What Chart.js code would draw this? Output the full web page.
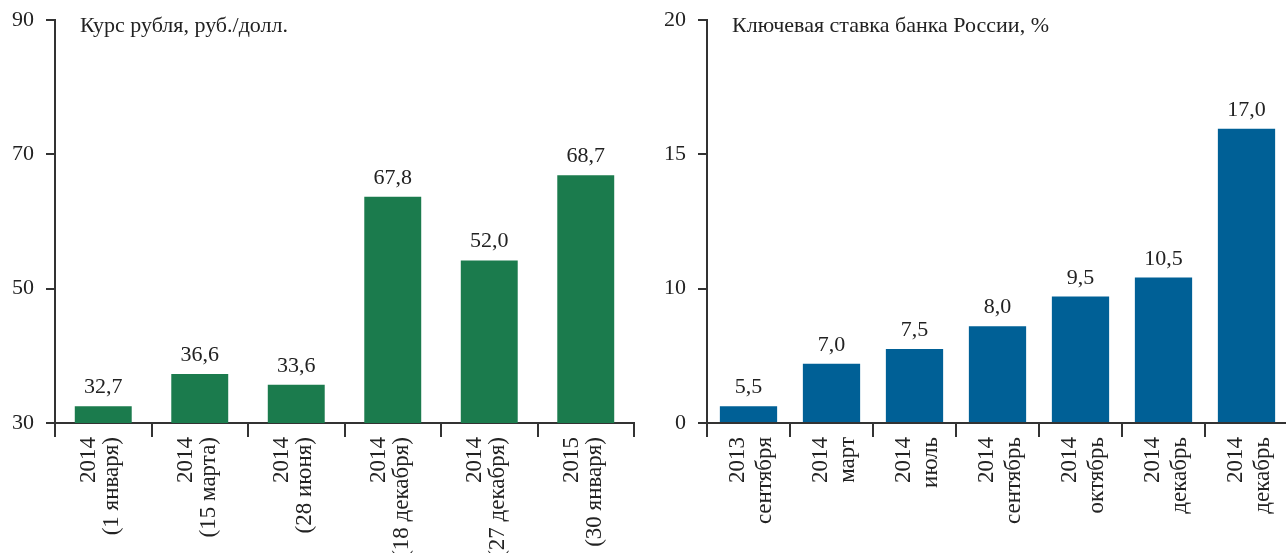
<!DOCTYPE html>
<html>
<head>
<meta charset="utf-8">
<script src="https://cdn.jsdelivr.net/npm/chart.js@4.4.1/dist/chart.umd.min.js"></script>
<style>
  html, body { margin: 0; padding: 0; background: #fff; overflow: hidden; }
  #wrap { position: relative; width: 1286px; height: 553px; }
  canvas { position: absolute; top: 0; }
  #rub { left: 0; }
  #rate { left: 645px; }
</style>
</head>
<body>
<div id="wrap">
  <canvas id="rub" width="645" height="553"></canvas>
  <canvas id="rate" width="643" height="553"></canvas>
</div>
<script>
// Two bar panels: rouble exchange rate and Bank of Russia key rate
const rubTitle = 'Курс рубля, руб./долл.';
const rubCategories = [
  ['2014', '(1 января)'],
  ['2014', '(15 марта)'],
  ['2014', '(28 июня)'],
  ['2014', '(18 декабря)'],
  ['2014', '(27 декабря)'],
  ['2015', '(30 января)']
];
// bar heights as drawn in the source, and the numbers printed above them
const rubBarValues = [32.5, 37.3, 35.7, 63.7, 54.2, 66.9];
const rubValueLabels = ['32,7', '36,6', '33,6', '67,8', '52,0', '68,7'];

const rateTitle = 'Ключевая ставка банка России, %';
const rateCategories = [
  ['2013', 'сентября'],
  ['2014', 'март'],
  ['2014', 'июль'],
  ['2014', 'сентябрь'],
  ['2014', 'октябрь'],
  ['2014', 'декабрь'],
  ['2014', 'декабрь']
];
// the source axis is evenly spaced but labelled 0, 10, 15, 20,
// so heights are read in axis steps
const rateTickLabels = ['0', '10', '15', '20'];
const rateBarValues = [0.125, 0.441, 0.551, 0.72, 0.941, 1.083, 2.19];
const rateValueLabels = ['5,5', '7,0', '7,5', '8,0', '9,5', '10,5', '17,0'];

const FONT = "'Liberation Serif', 'DejaVu Serif', serif";
const INK = '#222222';
const AXIS = '#333333';

// draws the inner title and the value labels above bars
const annotate = {
  id: 'annotate',
  afterDatasetsDraw(chart, args, opts) {
    const ctx = chart.ctx;
    const area = chart.chartArea;
    ctx.save();
    ctx.fillStyle = INK;
    ctx.font = '22px ' + FONT;
    ctx.textAlign = 'left';
    ctx.textBaseline = 'alphabetic';
    ctx.fillText(opts.title, area.left + 25, 32);

    ctx.font = '22px ' + FONT;
    ctx.textAlign = 'center';
    chart.getDatasetMeta(0).data.forEach(function (bar, i) {
      ctx.fillText(opts.labels[i], bar.x, bar.y - 13);
    });
    ctx.restore();
  }
};

function makeChart(id, cfg) {
  return new Chart(document.getElementById(id), {
    type: 'bar',
    data: {
      labels: cfg.categories,
      datasets: [{
        data: cfg.values,
        backgroundColor: cfg.color,
        borderWidth: 0,
        categoryPercentage: 1,
        barPercentage: cfg.barPct
      }]
    },
    options: {
      responsive: false,
      animation: false,
      layout: { padding: { top: 20, right: cfg.padRight, bottom: 0, left: 0 } },
      plugins: {
        legend: { display: false },
        tooltip: { enabled: false },
        annotate: { title: cfg.title, labels: cfg.valueLabels }
      },
      scales: {
        x: {
          grid: {
            offset: true,
            drawOnChartArea: false,
            drawTicks: true,
            tickLength: 14,
            color: AXIS,
            lineWidth: 2
          },
          border: { display: true, color: AXIS, width: 2 },
          ticks: {
            minRotation: 90,
            maxRotation: 90,
            autoSkip: false,
            padding: 0,
            labelOffset: cfg.labelOffset,
            color: INK,
            font: { family: FONT, size: 23, lineHeight: cfg.lineHeight }
          },
          afterFit: function (scale) {
            scale.height = 553 - 423;
            scale.paddingLeft = 0;
            scale.paddingRight = 0;
          }
        },
        y: {
          min: cfg.min,
          max: cfg.max,
          grid: {
            drawOnChartArea: false,
            drawTicks: true,
            tickLength: 9,
            color: AXIS,
            lineWidth: 2
          },
          border: { display: true, color: AXIS, width: 2 },
          ticks: {
            stepSize: cfg.step,
            padding: 12,
            color: INK,
            font: { family: FONT, size: 22, lineHeight: 1 },
            callback: cfg.tickCallback
          },
          afterFit: function (scale) {
            scale.width = cfg.axisX;
            scale.paddingTop = 0;
            scale.paddingBottom = 0;
          }
        }
      }
    },
    plugins: [annotate]
  });
}

makeChart('rub', {
  title: rubTitle,
  categories: rubCategories,
  values: rubBarValues,
  valueLabels: rubValueLabels,
  color: '#1b7b4d',
  barPct: 0.59,
  min: 30, max: 90, step: 20,
  axisX: 55,
  padRight: 11,
  lineHeight: 1.0,
  labelOffset: -14,
  tickCallback: function (v) { return String(v); }
});

makeChart('rate', {
  title: rateTitle,
  categories: rateCategories,
  values: rateBarValues,
  valueLabels: rateValueLabels,
  color: '#006096',
  barPct: 0.69,
  min: 0, max: 3, step: 1,
  axisX: 62,
  padRight: 0,
  lineHeight: 1.2,
  labelOffset: -11,
  tickCallback: function (v, i) { return rateTickLabels[i]; }
});
</script>
</body>
</html>
